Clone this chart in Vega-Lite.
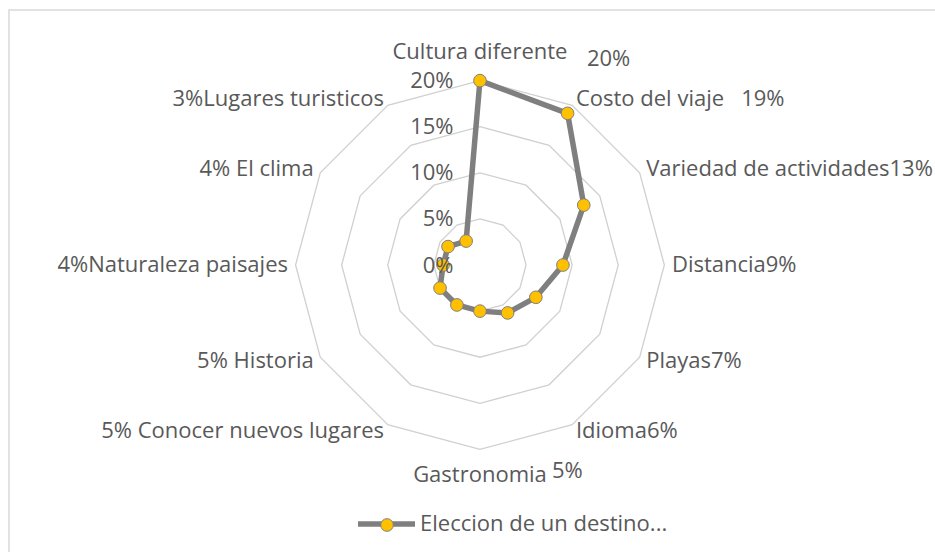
{
  "$schema": "https://vega.github.io/schema/vega-lite/v6.json",
  "width": 935,
  "height": 552,
  "autosize": {"type": "none"},
  "padding": {"left": 9, "top": 10, "right": 0, "bottom": 0},
  "background": "white",
  "config": {
    "view": {"stroke": "#d9d9d9", "strokeWidth": 1.5},
    "text": {"font": "Open Sans", "fontSize": 22, "color": "#595959"},
    "legend": {"padding": 0, "labelFont": "Open Sans", "labelFontSize": 22, "labelColor": "#595959", "labelLimit": 500}
  },
  "datasets": {
    "d": [
      {"cat": "Cultura diferente", "i": 0, "v": 20, "serie": "Eleccion de un destino..."},
      {"cat": "Costo del viaje", "i": 1, "v": 19, "serie": "Eleccion de un destino..."},
      {"cat": "Variedad de actividades", "i": 2, "v": 13, "serie": "Eleccion de un destino..."},
      {"cat": "Distancia", "i": 3, "v": 9, "serie": "Eleccion de un destino..."},
      {"cat": "Playas", "i": 4, "v": 7, "serie": "Eleccion de un destino..."},
      {"cat": "Idioma", "i": 5, "v": 6, "serie": "Eleccion de un destino..."},
      {"cat": "Gastronomia", "i": 6, "v": 5, "serie": "Eleccion de un destino..."},
      {"cat": "Conocer nuevos lugares", "i": 7, "v": 5, "serie": "Eleccion de un destino..."},
      {"cat": "Historia", "i": 8, "v": 5, "serie": "Eleccion de un destino..."},
      {"cat": "Naturaleza paisajes", "i": 9, "v": 4, "serie": "Eleccion de un destino..."},
      {"cat": "El clima", "i": 10, "v": 4, "serie": "Eleccion de un destino..."},
      {"cat": "Lugares turisticos", "i": 11, "v": 3, "serie": "Eleccion de un destino..."}
    ],
    "rings": [
      {"r": 5, "i": 0}, {"r": 5, "i": 1}, {"r": 5, "i": 2}, {"r": 5, "i": 3}, {"r": 5, "i": 4}, {"r": 5, "i": 5},
      {"r": 5, "i": 6}, {"r": 5, "i": 7}, {"r": 5, "i": 8}, {"r": 5, "i": 9}, {"r": 5, "i": 10}, {"r": 5, "i": 11},
      {"r": 10, "i": 0}, {"r": 10, "i": 1}, {"r": 10, "i": 2}, {"r": 10, "i": 3}, {"r": 10, "i": 4}, {"r": 10, "i": 5},
      {"r": 10, "i": 6}, {"r": 10, "i": 7}, {"r": 10, "i": 8}, {"r": 10, "i": 9}, {"r": 10, "i": 10}, {"r": 10, "i": 11},
      {"r": 15, "i": 0}, {"r": 15, "i": 1}, {"r": 15, "i": 2}, {"r": 15, "i": 3}, {"r": 15, "i": 4}, {"r": 15, "i": 5},
      {"r": 15, "i": 6}, {"r": 15, "i": 7}, {"r": 15, "i": 8}, {"r": 15, "i": 9}, {"r": 15, "i": 10}, {"r": 15, "i": 11},
      {"r": 20, "i": 0}, {"r": 20, "i": 1}, {"r": 20, "i": 2}, {"r": 20, "i": 3}, {"r": 20, "i": 4}, {"r": 20, "i": 5},
      {"r": 20, "i": 6}, {"r": 20, "i": 7}, {"r": 20, "i": 8}, {"r": 20, "i": 9}, {"r": 20, "i": 10}, {"r": 20, "i": 11}
    ]
  },
  "encoding": {
    "x": {"field": "px", "type": "quantitative", "scale": {"domain": [-51.08, 50.33], "nice": false, "zero": false}, "axis": null},
    "y": {
      "field": "py", "type": "quantitative",
      "scale": {"domain": [-32.21, 27.66], "nice": false, "zero": false},
      "axis": {
        "values": [0, 5, 10, 15, 20], "labelExpr": "datum.value + '%'", "title": null,
        "domain": false, "ticks": false, "tickSize": 0, "grid": false,
        "offset": -446, "labelPadding": 2, "zindex": 1,
        "labelFont": "Open Sans", "labelFontSize": 22, "labelColor": "#595959"
      }
    }
  },
  "layer": [
    {
      "data": {"name": "rings"},
      "transform": [
        {"calculate": "datum.r * sin(datum.i * PI / 6)", "as": "px"},
        {"calculate": "datum.r * cos(datum.i * PI / 6)", "as": "py"}
      ],
      "mark": {"type": "line", "interpolate": "linear-closed", "stroke": "#d0d0d0", "strokeWidth": 1.3},
      "encoding": {"detail": {"field": "r"}, "order": {"field": "i"}}
    },
    {
      "data": {"name": "d"},
      "transform": [
        {"calculate": "datum.v * sin(datum.i * PI / 6)", "as": "px"},
        {"calculate": "datum.v * cos(datum.i * PI / 6)", "as": "py"}
      ],
      "mark": {"type": "line", "interpolate": "linear-closed", "strokeWidth": 5.5, "strokeJoin": "round"},
      "encoding": {
        "order": {"field": "i"},
        "stroke": {
          "field": "serie", "type": "nominal", "scale": {"range": ["#7f7f7f"]},
          "legend": {"orient": "none", "legendX": 346, "legendY": 482.5, "title": null, "symbolType": "stroke", "symbolSize": 3249, "symbolStrokeWidth": 5.5, "labelOffset": 2}
        }
      }
    },
    {
      "data": {"name": "d"},
      "transform": [
        {"calculate": "datum.v * sin(datum.i * PI / 6)", "as": "px"},
        {"calculate": "datum.v * cos(datum.i * PI / 6)", "as": "py"},
        {"calculate": "datum.serie", "as": "serie2"}
      ],
      "mark": {"type": "circle", "size": 160, "opacity": 1, "stroke": "#7f7f7f", "strokeWidth": 1},
      "encoding": {
        "fill": {
          "field": "serie2", "type": "nominal", "scale": {"range": ["#ffc000"]},
          "legend": {"orient": "none", "legendX": 367, "legendY": 504, "title": null, "symbolType": "circle", "symbolSize": 160, "symbolStrokeColor": "#7f7f7f", "symbolStrokeWidth": 1, "labelExpr": "''"}
        }
      }
    },
    {
      "data": {"name": "d"},
      "transform": [
        {"filter": "datum.i >= 1 && datum.i <= 5"},
        {"calculate": "20.82 * sin(datum.i * PI / 6)", "as": "px"},
        {"calculate": "20.82 * cos(datum.i * PI / 6)", "as": "py"},
        {"calculate": "datum.cat + (datum.i == 1 ? '\u00a0\u00a0\u00a0' : '') + datum.v + '%'", "as": "lab"}
      ],
      "mark": {"type": "text", "align": "left", "baseline": "middle"},
      "encoding": {"text": {"field": "lab"}}
    },
    {
      "data": {"name": "d"},
      "transform": [
        {"filter": "datum.i >= 7"},
        {"calculate": "20.82 * sin(datum.i * PI / 6)", "as": "px"},
        {"calculate": "20.82 * cos(datum.i * PI / 6)", "as": "py"},
        {"calculate": "datum.v + '%' + (datum.i == 9 || datum.i == 11 ? '' : ' ') + datum.cat", "as": "lab"}
      ],
      "mark": {"type": "text", "align": "right", "baseline": "middle"},
      "encoding": {"text": {"field": "lab"}}
    },
    {
      "data": {"name": "d"},
      "transform": [
        {"filter": "datum.i == 0 || datum.i == 6"},
        {"calculate": "0", "as": "px"},
        {"calculate": "datum.i == 0 ? 23.1 : -22.75", "as": "py"}
      ],
      "mark": {"type": "text", "align": "center", "baseline": "middle"},
      "encoding": {"text": {"field": "cat"}}
    },
    {
      "data": {"name": "d"},
      "transform": [
        {"filter": "datum.i == 0"},
        {"calculate": "0", "as": "px"},
        {"calculate": "22.35", "as": "py"},
        {"calculate": "datum.v + '%'", "as": "lab"}
      ],
      "mark": {"type": "text", "align": "left", "baseline": "middle", "dx": 107},
      "encoding": {"text": {"field": "lab"}}
    },
    {
      "data": {"name": "d"},
      "transform": [
        {"filter": "datum.i == 6"},
        {"calculate": "0", "as": "px"},
        {"calculate": "-22.3", "as": "py"},
        {"calculate": "datum.v + '%'", "as": "lab"}
      ],
      "mark": {"type": "text", "align": "left", "baseline": "middle", "dx": 72},
      "encoding": {"text": {"field": "lab"}}
    }
  ]
}
